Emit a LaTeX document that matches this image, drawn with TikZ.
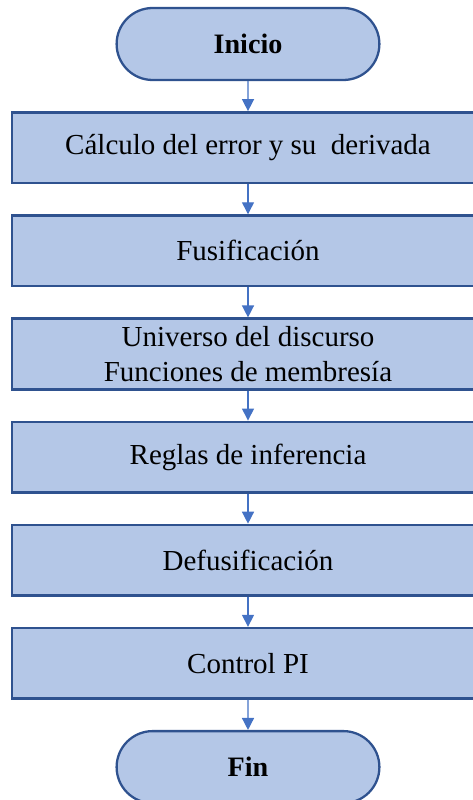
\documentclass[tikz,border=0pt]{standalone}
\definecolor{fcFill}{RGB}{180,199,231}
\definecolor{fcLine}{RGB}{47,82,143}
\definecolor{fcArrow}{RGB}{68,114,196}
\usepackage{fontspec}
\setmainfont{Liberation Serif}
\usepackage{tikz}
\usetikzlibrary{shapes,arrows,positioning}
\usetikzlibrary{arrows.meta}

\begin{document}
\begin{tikzpicture}[
    node distance=0.6cm,
    box/.style={rectangle, draw=fcLine, fill=fcFill, line width=1.5pt,
        minimum width=9.44cm, minimum height=1.41cm, align=center,
        font=\fontsize{16.5}{19.5}\selectfont},
    term/.style={rounded rectangle, draw=fcLine, fill=fcFill, line width=1.3pt,
        minimum width=5.49cm, minimum height=1.44cm,
        font=\fontsize{16}{19}\selectfont\bfseries},
    flow/.style={-{Triangle[length=2.4mm,width=2.4mm]}, draw=fcArrow, line width=0.8pt}
]
    % page frame (boxes run past the right edge)
    \useasboundingbox (0,0) rectangle (9.44,-16);

    % start / end and steps
    \node[term] (inicio) at (4.96,-0.88) {Inicio};
    \node[box, below=of inicio] (calculo) {C\'alculo del error y su~~derivada};
    \node[box, below=of calculo] (fusif) {Fusificaci\'on};
    \node[box, below=of fusif] (universo) {Universo del discurso\\Funciones de membres\'ia};
    \node[box, below=of universo] (reglas) {Reglas de inferencia};
    \node[box, below=of reglas] (defusif) {Defusificaci\'on};
    \node[box, below=of defusif] (control) {Control PI};
    \node[term, below=of control] (fin) {Fin};

    % connectors
    \draw[flow] (inicio) -- (calculo);
    \draw[flow] (calculo) -- (fusif);
    \draw[flow] (fusif) -- (universo);
    \draw[flow] (universo) -- (reglas);
    \draw[flow] (reglas) -- (defusif);
    \draw[flow] (defusif) -- (control);
    \draw[flow] (control) -- (fin);
\end{tikzpicture}
\end{document}
